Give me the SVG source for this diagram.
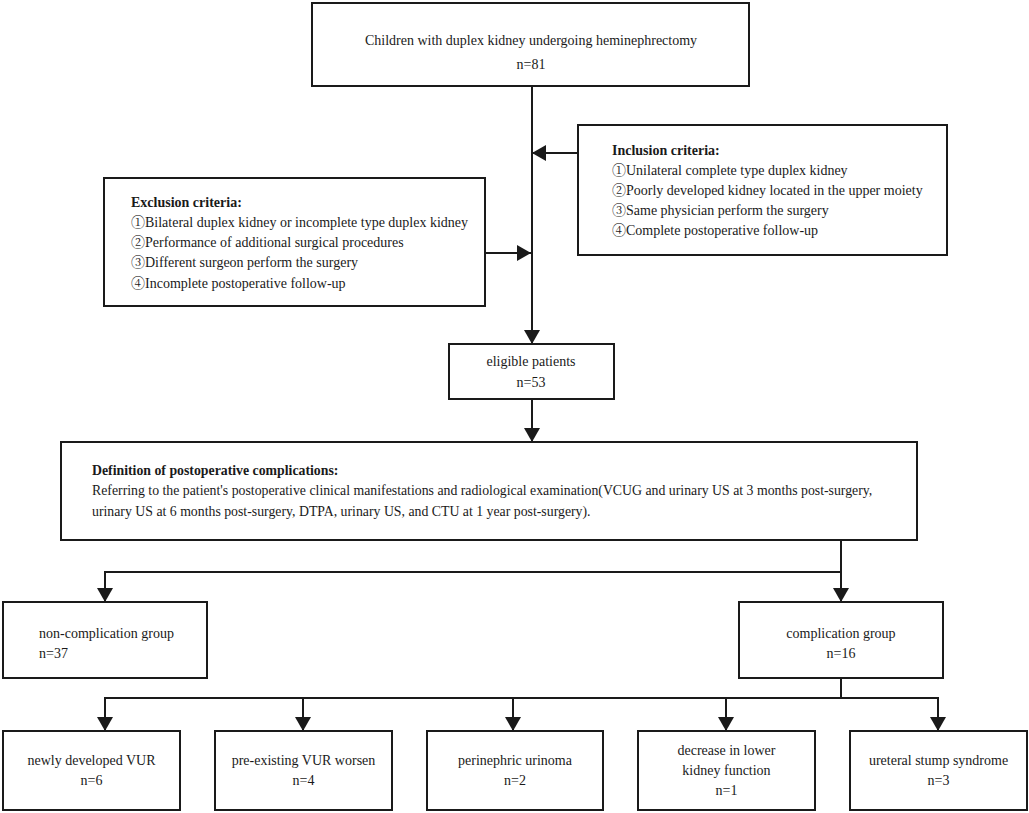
<svg xmlns="http://www.w3.org/2000/svg" width="1029" height="813" viewBox="0 0 1029 813">
<defs>
<style>
.box{fill:#fff;stroke:#1a1a1a;stroke-width:2}
.ln{fill:none;stroke:#1a1a1a;stroke-width:2}
text{font-family:"Liberation Serif","Noto Serif CJK SC","Noto Sans CJK SC",serif;font-size:14px;fill:#1a1a1a}
.c{text-anchor:middle}
.b{font-weight:bold}
.s{font-size:13.8px}
</style>
<marker id="ah" viewBox="0 0 14 16" refX="14" refY="8" markerWidth="14" markerHeight="16" markerUnits="userSpaceOnUse" orient="auto">
<path d="M0,0 L14,8 L0,16 Z" fill="#1a1a1a"/>
</marker>
</defs>
<rect width="1029" height="813" fill="#fff"/>
<g id="connectors">
<line class="ln" x1="532" y1="86" x2="532" y2="344" marker-end="url(#ah)"/>
<line class="ln" x1="578" y1="153" x2="532" y2="153" marker-end="url(#ah)"/>
<line class="ln" x1="485" y1="253" x2="531" y2="253" marker-end="url(#ah)"/>
<line class="ln" x1="532" y1="399" x2="532" y2="442" marker-end="url(#ah)"/>
<line class="ln" x1="841" y1="540" x2="841" y2="602" marker-end="url(#ah)"/>
<polyline class="ln" points="841,572 105,572 105,602" marker-end="url(#ah)"/>
<line class="ln" x1="841" y1="678" x2="841" y2="698"/>
<polyline class="ln" points="105,731 105,698 938,698 938,731" marker-end="url(#ah)"/>
<line class="ln" x1="105" y1="698" x2="105" y2="731" marker-end="url(#ah)"/>
<line class="ln" x1="303" y1="698" x2="303" y2="731" marker-end="url(#ah)"/>
<line class="ln" x1="513" y1="698" x2="513" y2="731" marker-end="url(#ah)"/>
<line class="ln" x1="726" y1="698" x2="726" y2="731" marker-end="url(#ah)"/>
</g>
<g id="start">
<rect class="box" x="312" y="3" width="437" height="83"/>
<text class="c" x="531" y="45">Children with duplex kidney undergoing heminephrectomy</text>
<text class="c" x="531" y="69">n=81</text>
</g>
<g id="inclusion">
<rect class="box" x="578" y="125" width="369" height="130"/>
<text class="b" x="612" y="155">Inclusion criteria:</text>
<text x="612" y="175">①Unilateral complete type duplex kidney</text>
<text x="612" y="195">②Poorly developed kidney located in the upper moiety</text>
<text x="612" y="215">③Same physician perform the surgery</text>
<text x="612" y="235">④Complete postoperative follow-up</text>
</g>
<g id="exclusion">
<rect class="box" x="104" y="178" width="381" height="128"/>
<text class="b" x="131" y="207">Exclusion criteria:</text>
<text x="131" y="227">①Bilateral duplex kidney or incomplete type duplex kidney</text>
<text x="131" y="247">②Performance of additional surgical procedures</text>
<text x="131" y="267">③Different surgeon perform the surgery</text>
<text x="131" y="288">④Incomplete postoperative follow-up</text>
</g>
<g id="eligible">
<rect class="box" x="449" y="344" width="165" height="55"/>
<text class="c" x="531" y="366">eligible patients</text>
<text class="c" x="531" y="387">n=53</text>
</g>
<g id="definition">
<rect class="box" x="61" y="442" width="856" height="98"/>
<text class="b s" x="92" y="475">Definition of postoperative complications:</text>
<text class="s" x="92" y="495">Referring to the patient's postoperative clinical manifestations and radiological examination(VCUG and urinary US at 3 months post-surgery,</text>
<text class="s" x="92" y="516">urinary US at 6 months post-surgery, DTPA, urinary US, and CTU at 1 year post-surgery).</text>
</g>
<g id="non-complication">
<rect class="box" x="3" y="602" width="204" height="76"/>
<text x="39" y="638">non-complication group</text>
<text x="39" y="658">n=37</text>
</g>
<g id="complication">
<rect class="box" x="739" y="602" width="204" height="76"/>
<text class="c" x="841" y="638">complication group</text>
<text class="c" x="841" y="658">n=16</text>
</g>
<g id="newly-vur">
<rect class="box" x="3" y="731" width="177" height="79"/>
<text class="c" x="91.5" y="765">newly developed VUR</text>
<text class="c" x="91.5" y="785">n=6</text>
</g>
<g id="preexisting-vur">
<rect class="box" x="215" y="731" width="177" height="79"/>
<text class="c" x="303.5" y="765">pre-existing VUR worsen</text>
<text class="c" x="303.5" y="785">n=4</text>
</g>
<g id="urinoma">
<rect class="box" x="427" y="731" width="176" height="79"/>
<text class="c" x="515" y="765">perinephric urinoma</text>
<text class="c" x="515" y="785">n=2</text>
</g>
<g id="lower-kidney">
<rect class="box" x="638" y="731" width="177" height="79"/>
<text class="c" x="726.5" y="755">decrease in lower</text>
<text class="c" x="726.5" y="775">kidney function</text>
<text class="c" x="726.5" y="795">n=1</text>
</g>
<g id="stump">
<rect class="box" x="850" y="731" width="177" height="79"/>
<text class="c" x="938.5" y="765">ureteral stump syndrome</text>
<text class="c" x="938.5" y="785">n=3</text>
</g>
</svg>
